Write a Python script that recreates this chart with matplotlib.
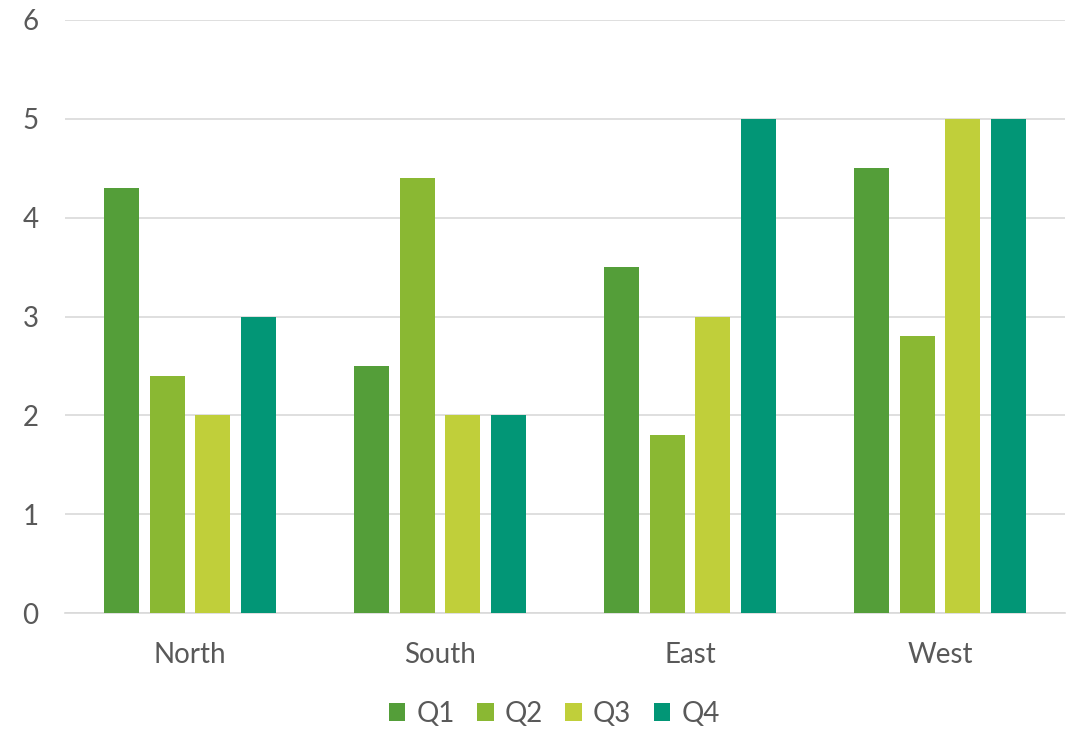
import numpy as np
import matplotlib
matplotlib.use("Agg")
import matplotlib.pyplot as plt

plt.rcParams["font.family"] = ["Lato", "DejaVu Sans"]

regions = ["North", "South", "East", "West"]
quarters = ["Q1", "Q2", "Q3", "Q4"]
q1 = [4.3, 2.5, 3.5, 4.5]
q2 = [2.4, 4.4, 1.8, 2.8]
q3 = [2.0, 2.0, 3.0, 5.0]
q4 = [3.0, 2.0, 5.0, 5.0]
yticks = [0, 1, 2, 3, 4, 5, 6]

colors = ["#549E39", "#8AB833", "#C0CF3A", "#029676"]
text_color = "#595959"

fig = plt.figure(figsize=(10.76, 7.30), dpi=100)
ax = fig.add_axes([65 / 1076, 117 / 730, 1000 / 1076, 593 / 730])

x = np.arange(len(regions))
width = 0.14
step = 0.182
for i, (vals, q) in enumerate(zip([q1, q2, q3, q4], quarters)):
    ax.bar(x + (i - 1.5) * step, vals, width, color=colors[i], label=q, zorder=3)

ax.set_xlim(-0.5, len(regions) - 0.5)
ax.set_ylim(0, 6)
ax.set_yticks(yticks)
ax.set_yticklabels([str(v) for v in yticks])
ax.set_xticks(x)
ax.set_xticklabels(regions)
ax.yaxis.grid(True, color="#D9D9D9", lw=1.2, zorder=0)
for s in ["top", "right", "left"]:
    ax.spines[s].set_visible(False)
ax.spines["bottom"].set_color("#D9D9D9")
ax.spines["bottom"].set_linewidth(1.2)
ax.tick_params(axis="both", length=0, labelsize=20, colors=text_color)
ax.tick_params(axis="y", pad=19)
ax.tick_params(axis="x", pad=21)

leg = fig.legend(loc="center", bbox_to_anchor=(0.515, 0.022), ncol=4, frameon=False,
                 fontsize=20, handlelength=0.6, handleheight=0.6, handletextpad=0.4,
                 columnspacing=0.8)
for t in leg.get_texts():
    t.set_color(text_color)

fig.savefig("out.png", dpi=100)
